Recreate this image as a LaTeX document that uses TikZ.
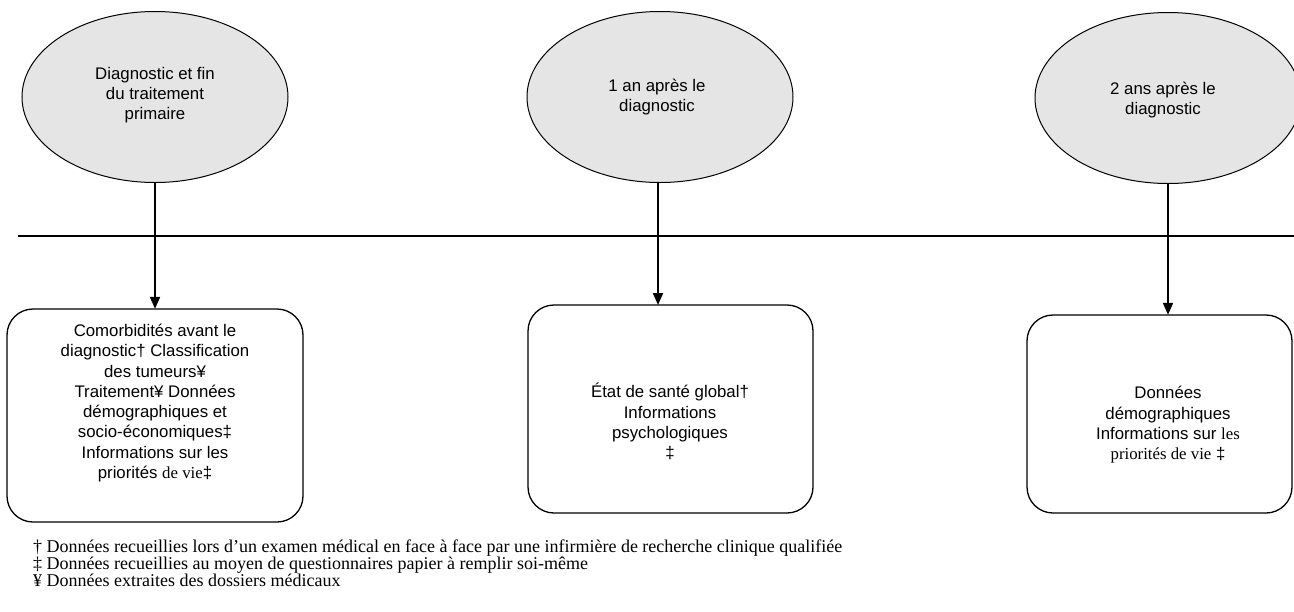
\documentclass[tikz,border=0pt]{standalone}
\usepackage{fontspec}
\defaultfontfeatures{}
\setmainfont{Liberation Serif}
\newfontfamily\arial{Liberation Sans}
\usetikzlibrary{shapes.geometric,arrows.meta}
\tikzset{
  bubble/.style={ellipse,draw=black,line width=1pt,fill=black!10,minimum width=266pt,minimum height=171pt,inner sep=0pt},
  infobox/.style={draw=black,line width=1.3pt,rounded corners=26pt,inner sep=0pt},
  sanstext/.style={align=center,font=\arial\fontsize{16.8pt}{20.3pt}\selectfont,inner sep=0pt},
  foot/.style={anchor=base west,font=\fontsize{18pt}{17pt}\selectfont,inner sep=0pt},
  conn/.style={line width=2pt,-{Triangle[length=12pt,width=10pt]}},
  timeline/.style={line width=2pt}
}
\begin{document}
\begin{tikzpicture}[x=1pt,y=-1pt]
\useasboundingbox (0,0) rectangle (1294,611);
\clip (0,0) rectangle (1294,611);
% ellipses
\node[bubble] (e1) at (155,97) {};
\node[bubble] (e2) at (660,97) {};
\node[bubble] (e3) at (1168,98) {};
\node[sanstext] (t1) at (155,95) {Diagnostic et fin\\du traitement\\primaire};
\node[sanstext] (t2) at (657,97) {1 an après le\\diagnostic};
\node[sanstext] (t3) at (1163,100) {2 ans après le\\diagnostic};
% timeline
\coordinate (l0) at (18,236);
\coordinate (l1) at (1294,236);
\draw[timeline] (l0) -- (l1);
% boxes
\draw[infobox] (7,309) rectangle (303,522);
\node[minimum width=296pt,minimum height=213pt,inner sep=0pt] (b1) at (155,415.5) {};
\draw[infobox] (528,305) rectangle (813,513);
\node[minimum width=285pt,minimum height=208pt,inner sep=0pt] (b2) at (670.5,409) {};
\draw[infobox] (1027,315) rectangle (1292,513);
\node[minimum width=265pt,minimum height=198pt,inner sep=0pt] (b3) at (1159.5,414) {};
\node[sanstext] (bt1) at (155,403) {Comorbidités avant le\\diagnostic† Classification\\des tumeurs¥\\Traitement¥ Données\\démographiques et\\socio-économiques‡\\Informations sur les\\priorités {\rmfamily de vie}‡};
\node[sanstext] (bt2) at (670,421.5) {État de santé global†\\Informations\\psychologiques\\‡};
\node[sanstext] (bt3) at (1168,425) {Données\\démographiques\\Informations sur {\rmfamily les}\\{\rmfamily priorités de vie} ‡};
% connectors
\draw[conn] (e1.south) -- (e1.south |- b1.north);
\draw[conn] (e2.south -| 658,0) -- (658,305);
\draw[conn] (e3.south) -- (e3.south |- b3.north);
% footnotes
\node[foot] (f1) at (33,552) {† Données recueillies lors d'un examen médical en face à face par une infirmière de recherche clinique qualifiée};
\node[foot] (f2) at (33,569) {‡ Données recueillies au moyen de questionnaires papier à remplir soi-même};
\node[foot] (f3) at (33,586) {¥ Données extraites des dossiers médicaux};
\end{tikzpicture}
\end{document}
